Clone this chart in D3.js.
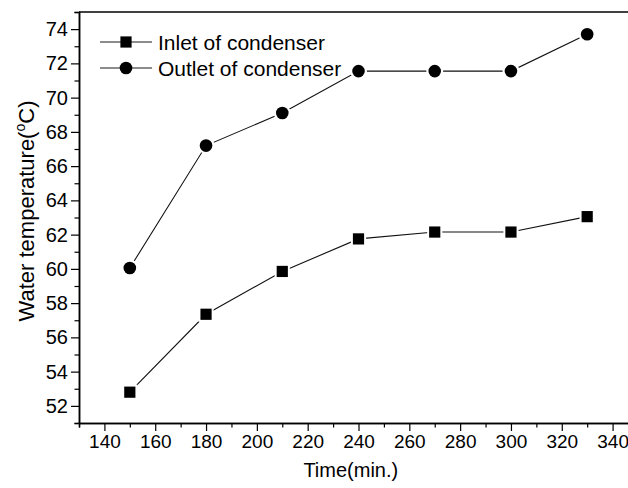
<!DOCTYPE html>
<html>
<head>
<meta charset="utf-8">
<script src="https://cdn.jsdelivr.net/npm/d3@7"></script>
<style>
  html, body { margin: 0; padding: 0; background: #fff; }
  svg { display: block; font-family: "Liberation Sans", Arial, sans-serif; }
</style>
</head>
<body>
<svg id="chart" width="628" height="488"></svg>
<script>
const times = [150, 180, 210, 240, 270, 300, 330];
const inletTemps = [52.8, 57.35, 59.85, 61.75, 62.15, 62.15, 63.05];
const outletTemps = [60.05, 67.2, 69.1, 71.55, 71.55, 71.55, 73.7];
const seriesNames = ["Inlet of condenser", "Outlet of condenser"];
const xMajorTicks = [140, 160, 180, 200, 220, 240, 260, 280, 300, 320, 340];
const xMinorTicks = [130, 150, 170, 190, 210, 230, 250, 270, 290, 310, 330, 350];
const yMajorTicks = [52, 54, 56, 58, 60, 62, 64, 66, 68, 70, 72, 74];
const yMinorTicks = [51, 53, 55, 57, 59, 61, 63, 65, 67, 69, 71, 73, 75];
const xTitle = "Time(min.)";

const svg = d3.select("#chart");
const mLeft = 79, mRight = 638, mTop = 12, mBottom = 423;
const x = d3.scaleLinear().domain([130, 350]).range([mLeft, mRight]);
const y = d3.scaleLinear().domain([51, 75]).range([mBottom, mTop]);

// frame top and right lines
svg.append("line").attr("x1", mLeft).attr("x2", mRight).attr("y1", mTop).attr("y2", mTop)
  .attr("stroke", "#000").attr("stroke-width", 1.5);
svg.append("line").attr("x1", mRight).attr("x2", mRight).attr("y1", mTop).attr("y2", mBottom)
  .attr("stroke", "#000").attr("stroke-width", 1.5);

function styleAxis(g, fs) {
  g.selectAll("path").attr("stroke", "#000").attr("stroke-width", 1.5);
  g.selectAll("line").attr("stroke", "#000").attr("stroke-width", 1.2);
  g.selectAll("text").attr("font-size", fs).attr("fill", "#000")
    .attr("font-family", "Liberation Sans, Arial, sans-serif");
}

// x axis
const gxMinor = svg.append("g").attr("transform", `translate(0,${mBottom})`)
  .call(d3.axisBottom(x).tickValues(xMinorTicks).tickSize(4.5).tickFormat(""));
styleAxis(gxMinor, 19);
const gx = svg.append("g").attr("transform", `translate(0,${mBottom})`)
  .call(d3.axisBottom(x).tickValues(xMajorTicks).tickSize(8).tickSizeOuter(0).tickPadding(4));
styleAxis(gx, 19);

// y axis
const gyMinor = svg.append("g").attr("transform", `translate(${mLeft},0)`)
  .call(d3.axisLeft(y).tickValues(yMinorTicks).tickSize(4.5).tickFormat(""));
styleAxis(gyMinor, 20);
const gy = svg.append("g").attr("transform", `translate(${mLeft},0)`)
  .call(d3.axisLeft(y).tickValues(yMajorTicks).tickSize(8).tickSizeOuter(0).tickPadding(3));
styleAxis(gy, 20);

// axis titles
svg.append("text").attr("x", (x(130) + x(340)) / 2 + 5).attr("y", 477)
  .attr("text-anchor", "middle").attr("font-size", 20).text(xTitle);
const yt = svg.append("text").attr("transform", "translate(34,211) rotate(-90)")
  .attr("text-anchor", "middle").attr("font-size", 22);
yt.append("tspan").text("Water temperature(");
yt.append("tspan").attr("font-size", 14).attr("dy", -9).text("o");
yt.append("tspan").attr("dy", 9).text("C)");

// series
const line = d3.line().x(d => x(d[0])).y(d => y(d[1]));
const series = [
  { name: seriesNames[0], values: inletTemps, shape: "square" },
  { name: seriesNames[1], values: outletTemps, shape: "circle" }
];

function drawMarker(g, cx, cy, shape, halo) {
  if (shape === "square") {
    const s = 11.2;
    if (halo) g.append("rect").attr("x", cx - s / 2 - 2).attr("y", cy - s / 2 - 2)
      .attr("width", s + 4).attr("height", s + 4).attr("fill", "#fff");
    g.append("rect").attr("x", cx - s / 2).attr("y", cy - s / 2)
      .attr("width", s).attr("height", s).attr("fill", "#000");
  } else {
    const r = 6.3;
    if (halo) g.append("circle").attr("cx", cx).attr("cy", cy).attr("r", r + 2.2).attr("fill", "#fff");
    g.append("circle").attr("cx", cx).attr("cy", cy).attr("r", r).attr("fill", "#000");
  }
}

series.forEach(s => {
  const pts = times.map((t, i) => [t, s.values[i]]);
  svg.append("path").datum(pts).attr("d", line)
    .attr("fill", "none").attr("stroke", "#111").attr("stroke-width", 1.1);
  const g = svg.append("g");
  pts.forEach(p => drawMarker(g, x(p[0]), y(p[1]), s.shape, true));
});

// legend
const legY = [42, 68];
series.forEach((s, i) => {
  const g = svg.append("g");
  g.append("line").attr("x1", 100).attr("x2", 152).attr("y1", legY[i]).attr("y2", legY[i])
    .attr("stroke", "#666").attr("stroke-width", 1.6);
  drawMarker(g, 126, legY[i], s.shape, false);
  g.append("text").attr("x", 158).attr("y", legY[i] + 7.5)
    .attr("font-size", 21).text(s.name);
});
</script>
</body>
</html>
